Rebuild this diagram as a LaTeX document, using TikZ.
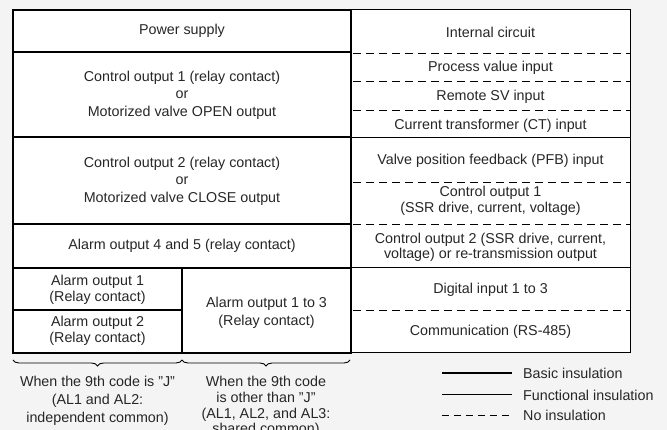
\documentclass[tikz,border=0pt]{standalone}
\usepackage{fontspec}
\setmainfont{Liberation Sans}
\usetikzlibrary{decorations.pathreplacing}
\definecolor{bg}{RGB}{243,244,243}
\definecolor{txt}{RGB}{40,38,38}
\begin{document}
\begin{tikzpicture}[x=1pt,y=-1pt,
  cell/.style={text=txt,font=\fontsize{14.3}{17.5}\selectfont,align=center,inner sep=0pt},
  rcell/.style={cell,font=\fontsize{14.3}{15.5}\selectfont},
  legtext/.style={cell,anchor=west},
  thickline/.style={line width=2pt,draw=black},
  thinline/.style={line width=1pt,draw=black},
  dashline/.style={line width=0.9pt,draw=black,dash pattern=on 8pt off 5pt},
  legdash/.style={line width=0.9pt,draw=black,dash pattern=on 7pt off 5pt},
  bracestyle/.style={line width=0.9pt,draw=black,decorate,decoration={brace,amplitude=6pt}}]
\fill[bg] (0,0) rectangle (667,430);
\useasboundingbox (0,0) rectangle (667,430);
\fill[white] (13,10) rectangle (630,353);
% right table (thin / dashed)
\draw[thinline] (351,10) -- (630,10) -- (630,353) -- (351,353);
\draw[thinline] (351,138) -- (630,138);
\draw[thinline] (351,268) -- (630,268);
\foreach \y in {53,81,110,182,224,310} \draw[dashline] (353,\y) -- (630,\y);
% left table (thick)
\draw[thickline] (13,10) rectangle (351,353);
\foreach \y in {52,137,224,268} \draw[thickline] (13,\y) -- (351,\y);
\draw[thickline] (182,268) -- (182,353);
\draw[thickline] (13,310) -- (182,310);
% left texts
\node[cell] (ps) at (182,31) {Power supply};
\node[cell] (co1) at (182,95) {Control output 1 (relay contact)\\or\\Motorized valve OPEN output};
\node[cell] (co2) at (182,181) {Control output 2 (relay contact)\\or\\Motorized valve CLOSE output};
\node[cell] (al45) at (182,246) {Alarm output 4 and 5 (relay contact)};
\node[cell,font=\fontsize{14.3}{16}\selectfont] (al1) at (97.5,290) {Alarm output 1\\(Relay contact)};
\node[cell,font=\fontsize{14.3}{16}\selectfont] (al2) at (97.5,331) {Alarm output 2\\(Relay contact)};
\node[cell] (al13) at (266.5,313) {Alarm output 1 to 3\\(Relay contact)};
% right texts
\node[rcell] (ic) at (490.5,32) {Internal circuit};
\node[rcell] (pv) at (490.5,68) {Process value input};
\node[rcell] (rsv) at (490.5,97) {Remote SV input};
\node[rcell] (ct) at (490.5,125.5) {Current transformer (CT) input};
\node[rcell] (pfb) at (490.5,160.5) {Valve position feedback (PFB) input};
\node[rcell] (rco1) at (490.5,201) {Control output 1\\(SSR drive, current, voltage)};
\node[rcell] (rco2) at (490.5,247.5) {Control output 2 (SSR drive, current,\\voltage) or re-transmission output};
\node[rcell] (di) at (490.5,290) {Digital input 1 to 3};
\node[rcell] (com) at (490.5,332) {Communication (RS-485)};
% braces
\coordinate (b0) at (13,360);
\coordinate (b1) at (182,360);
\coordinate (b2) at (350,360);
\draw[bracestyle] (b1) -- (b0);
\draw[bracestyle] (b2) -- (b1);
\node[cell,anchor=north,font=\fontsize{14.3}{18}\selectfont] (cj) at (97.5,376) {When the 9th code is "J"\\(AL1 and AL2:\\independent common)};
\node[cell,anchor=north,font=\fontsize{14.3}{15.8}\selectfont] (cnj) at (266,376) {When the 9th code\\is other than "J"\\(AL1, AL2, and AL3:\\shared common)};
% legend
\coordinate (l1a) at (442,373); \coordinate (l1b) at (512,373);
\coordinate (l2a) at (442,395); \coordinate (l2b) at (512,395);
\coordinate (l3a) at (442,415); \coordinate (l3b) at (512,415);
\draw[line width=2.2pt] (l1a) -- (l1b);
\draw[thinline] (l2a) -- (l2b);
\draw[legdash] (l3a) -- (l3b);
\node[legtext] (lb) at (523,373) {Basic insulation};
\node[legtext] (lf) at (523,395) {Functional insulation};
\node[legtext] (ln) at (523,415) {No insulation};
\end{tikzpicture}
\end{document}
